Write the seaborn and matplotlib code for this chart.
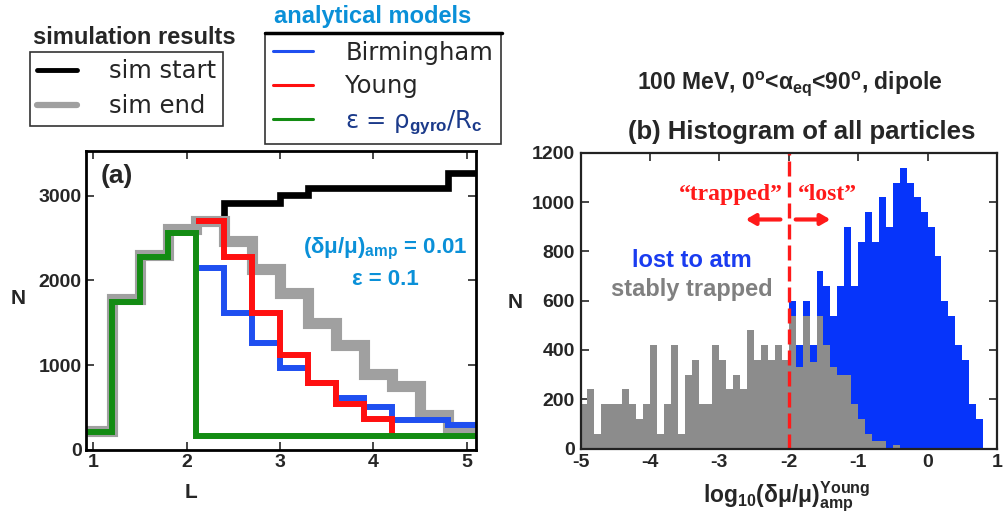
import matplotlib
matplotlib.use("Agg")
import matplotlib.pyplot as plt
from matplotlib.lines import Line2D
import seaborn as sns
import numpy as np
import pandas as pd

# ---- panel (a): counts per L bin (bins 0.3 wide) ----
L_edges = [0.9, 1.2, 1.5, 1.8, 2.1, 2.4, 2.7, 3.0, 3.3, 3.6, 3.9, 4.2, 4.5, 4.8, 5.1]
sim_start = [220, 1770, 2290, 2600, 2700, 2910, 2910, 3010, 3090, 3090, 3090, 3090, 3090, 3260]
sim_end = [225, 1775, 2295, 2610, 2700, 2460, 2130, 1850, 1500, 1240, 900, 750, 410, 270]
birmingham = [2145, 1615, 1260, 965, 790, 610, 510, 350, 350, 295]      # starts at L=2.1
young = [2700, 2280, 1615, 1125, 790, 545, 360, 160]                    # starts at L=2.1, ends 4.2
eps_model = [215, 1750, 2270, 2560, 160, 160, 160, 160, 160, 160, 160, 160, 160, 160]

# ---- panel (b): histogram of log10(dmu/mu), bins 0.1 wide ----
trapped_start = -5.0
trapped = [180, 240, 60, 180, 180, 180, 240, 180, 120, 180,
           420, 60, 180, 420, 60, 300, 360, 180, 180, 420,
           360, 240, 300, 240, 480, 360, 420, 360, 420, 360,
           540, 330, 540, 350, 540, 420, 330, 300, 300, 180,
           120, 60, 30, 30, 0, 15, 0, 0, 0, 0,
           0, 0, 0, 0, 0, 0, 0, 0]
lost_start = -2.0
lost = [600, 420, 600, 420, 720, 660, 540, 660, 900, 660,
        840, 960, 840, 1020, 900, 1080, 1140, 1080, 1020, 960,
        900, 780, 600, 540, 420, 360, 180, 120]
bin_w = 0.1

BLUE_L, RED_L, GREEN_L = "#1f4ff0", "#ff1010", "#138c13"
GRAY_L = "#a0a0a0"
CYAN = "#0a90d8"
HBLUE, HGRAY = "#0634fa", "#8c8c8c"
RED = "#ff1a1a"

sns.set_style("ticks")
plt.rcParams["font.family"] = ["Liberation Sans", "DejaVu Sans"]
plt.rcParams["font.weight"] = "bold"
plt.rcParams["axes.unicode_minus"] = False
plt.rcParams["mathtext.fontset"] = "custom"
plt.rcParams["mathtext.bf"] = "Liberation Sans:bold"
plt.rcParams["mathtext.rm"] = "Liberation Sans"
plt.rcParams["mathtext.default"] = "bf"

W, H = 1005, 514
fig = plt.figure(figsize=(W / 100, H / 100), dpi=100)


def fbox(l, t, r, b):
    return [l / W, 1 - b / H, (r - l) / W, (b - t) / H]


def step_line(ax, start, vals, color, lw, extend=True):
    i0 = L_edges.index(start)
    ys = list(vals) + ([vals[-1]] if extend else [])
    xs = L_edges[i0:i0 + len(ys)]
    sns.lineplot(x=xs, y=ys, ax=ax, color=color, lw=lw, drawstyle="steps-post",
                 solid_joinstyle="miter", solid_capstyle="butt")


def hist_frame(start, counts):
    edges = np.round(start + bin_w * np.arange(len(counts) + 1), 2)
    df = pd.DataFrame({"x": edges[:-1] + bin_w / 2, "n": counts})
    return df, [float(e) for e in edges]


# ---------------- panel (a) ----------------
axa = fig.add_axes(fbox(86, 151, 476, 450))
step_line(axa, 0.9, sim_start, "black", 4.8)
step_line(axa, 0.9, sim_end, GRAY_L, 8.0)
step_line(axa, 2.1, birmingham, BLUE_L, 4.3)
step_line(axa, 2.1, young, RED_L, 4.3, extend=False)
step_line(axa, 0.9, eps_model, GREEN_L, 4.3)

axa.set_xlim(0.92, 5.1)
axa.set_ylim(0, 3525)
axa.set_xticks([1, 2, 3, 4, 5])
axa.set_yticks([0, 1000, 2000, 3000])
axa.set_xlabel("")
axa.set_ylabel("")
axa.tick_params(direction="in", top=True, right=True, length=6, width=1.2,
                labelsize=14, pad=3)
for s in axa.spines.values():
    s.set_linewidth(2)
    s.set_color("black")
axa.text(1.25, 3230, "(a)", fontsize=19, weight="bold", ha="center", va="center")
axa.text(4.13, 2365, "(δμ/μ)$_{amp}$ = 0.01", fontsize=16, color=CYAN,
         ha="center", va="center")
axa.text(4.13, 2010, "ε = 0.1", fontsize=16, color=CYAN, ha="center", va="center")
fig.text(18 / W, 1 - 298 / H, "N", fontsize=15, ha="center", va="center")
fig.text(191 / W, 1 - 493 / H, "L", fontsize=15, ha="center", va="center")

# legends for panel (a)
leg_font = {"family": "DejaVu Sans", "weight": "normal", "size": 17.5}
sim_handles = [Line2D([], [], color="black", lw=3.5), Line2D([], [], color=GRAY_L, lw=4.5)]
leg1 = axa.legend(sim_handles, ["sim start", "sim end"], loc="upper left",
                  bbox_to_anchor=(30 / W, 1 - 52 / H), bbox_transform=fig.transFigure,
                  prop=leg_font, frameon=True, fancybox=False, edgecolor="#333333",
                  framealpha=1, borderaxespad=0, handlelength=1.65, handletextpad=1.3,
                  labelspacing=0.45, borderpad=0.3)
leg1.get_frame().set_linewidth(1.2)
axa.add_artist(leg1)
mod_handles = [Line2D([], [], color=BLUE_L, lw=2.2), Line2D([], [], color=RED_L, lw=2.2),
               Line2D([], [], color=GREEN_L, lw=2.2)]
leg2 = axa.legend(mod_handles, ["Birmingham", "Young", "ε = ρ$_{\\mathrm{gyro}}$/R$_{\\mathrm{c}}$"],
                  loc="upper left", bbox_to_anchor=(265 / W, 1 - 33 / H),
                  bbox_transform=fig.transFigure, prop=leg_font, frameon=True,
                  fancybox=False, edgecolor="#333333", framealpha=1, borderaxespad=0,
                  handlelength=1.65, handletextpad=1.34, labelspacing=0.4, borderpad=0.32)
leg2.get_frame().set_linewidth(1.2)
leg2.get_texts()[2].set_color("#1b3a8a")
fig.add_artist(Line2D([265 / W, 502 / W], [1 - 33 / H, 1 - 33 / H], color="black", lw=2.5,
                      transform=fig.transFigure))
fig.text(134 / W, 1 - 38 / H, "simulation results", fontsize=17, ha="center", va="center")
fig.text(373 / W, 1 - 17 / H, "analytical models", fontsize=17, color=CYAN,
         ha="center", va="center")

# ---------------- panel (b) ----------------
axb = fig.add_axes(fbox(580.5, 153, 997, 448.5))
lost_df, lost_edges = hist_frame(lost_start, lost)
trap_df, trap_edges = hist_frame(trapped_start, trapped)
sns.histplot(data=lost_df, x="x", weights="n", bins=lost_edges, element="step",
             fill=True, color=HBLUE, alpha=1, linewidth=0, ax=axb)
sns.histplot(data=trap_df, x="x", weights="n", bins=trap_edges, element="step",
             fill=True, color=HGRAY, alpha=1, linewidth=0, ax=axb)
axb.axvline(-2, color=RED, lw=2.4, dashes=(4.5, 1.8))
axb.set_xlim(-5, 1)
axb.set_ylim(0, 1200)
axb.set_xticks([-5, -4, -3, -2, -1, 0, 1])
axb.set_yticks([0, 200, 400, 600, 800, 1000, 1200])
axb.set_xlabel("")
axb.set_ylabel("")
axb.tick_params(direction="in", top=True, right=True, length=6, width=1.2,
                labelsize=14, pad=4)
for s in axb.spines.values():
    s.set_linewidth(1.6)
    s.set_color("#222222")

arrow = dict(arrowstyle="-|>,head_length=0.55,head_width=0.32", color=RED, lw=3,
             shrinkA=0, shrinkB=0)
axb.annotate("", xy=(-2.62, 930), xytext=(-2.12, 930), arrowprops=arrow)
axb.annotate("", xy=(-1.40, 930), xytext=(-1.90, 930), arrowprops=arrow)
serif = {"family": "Liberation Serif", "weight": "bold", "size": 17}
axb.text(-2.84, 1030, "\u201ctrapped\u201d", fontdict=serif, color=RED, ha="center", va="center")
axb.text(-1.44, 1030, "\u201clost\u201d", fontdict=serif, color=RED, ha="center", va="center")
axb.text(-3.40, 762, "lost to atm", fontsize=17, color="#1a3cf0", ha="center", va="center")
axb.text(-3.40, 645, "stably trapped", fontsize=17, color="#808080", ha="center", va="center")

fig.text(515 / W, 1 - 303 / H, "N", fontsize=15, ha="center", va="center")
fig.text(787 / W, 1 - 502 / H, "log$_{10}$(δμ/μ)$_{amp}^{Young}$", fontsize=16.5,
         ha="center", va="baseline")
fig.text(802 / W, 1 - 132 / H, "(b) Histogram of all particles", fontsize=18.5,
         ha="center", va="center")
fig.text(790 / W, 1 - 84 / H, "100 MeV, 0$^{o}$<α$_{eq}$<90$^{o}$, dipole", fontsize=16.5,
         ha="center", va="center")

fig.savefig("out.png", dpi=100)
